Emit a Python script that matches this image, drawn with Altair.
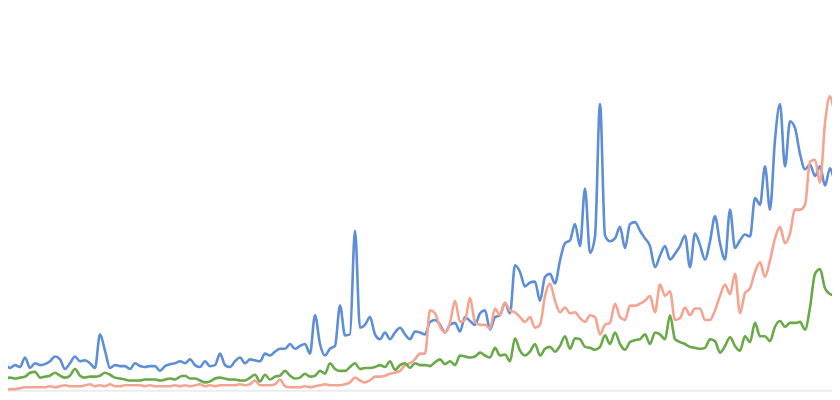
import altair as alt
import pandas as pd

# weekly index values (relative scale), one entry per week
blue = [27, 28, 25, 28, 26, 36, 25, 30, 28, 29, 32, 37, 34, 24, 30, 37, 32, 33, 30, 25,
        60, 43, 25, 28, 27, 27, 24, 30, 27, 26, 27, 27, 22, 27, 29, 30, 32, 30, 34, 28,
        26, 32, 27, 28, 40, 28, 26, 32, 36, 30, 34, 33, 32, 40, 38, 42, 45, 45, 50, 45,
        48, 50, 40, 80, 50, 38, 45, 48, 90, 59, 60, 168, 67, 70, 78, 60, 55, 62, 55, 62,
        67, 60, 55, 63, 62, 60, 73, 75, 70, 62, 70, 72, 63, 78, 74, 70, 82, 85, 65, 78,
        80, 93, 82, 132, 125, 110, 114, 115, 95, 120, 123, 113, 137, 155, 158, 175, 152, 212, 145, 162,
        300, 163, 157, 160, 172, 150, 175, 177, 168, 160, 152, 130, 142, 152, 138, 144, 152, 163, 130, 165,
        153, 138, 157, 183, 155, 138, 190, 150, 158, 164, 162, 202, 195, 235, 190, 263, 300, 235, 282, 275,
        248, 232, 237, 225, 235, 215, 233, 220, 218]

salmon = [2, 2, 3, 3, 4, 5, 5, 5, 5, 5, 6, 5, 6, 7, 6, 6, 6, 7, 8, 6,
          7, 6, 8, 6, 6, 7, 7, 7, 7, 6, 7, 6, 6, 6, 6, 7, 6, 7, 6, 7,
          8, 6, 7, 6, 7, 7, 7, 7, 8, 7, 8, 12, 7, 7, 7, 8, 13, 6, 5, 5,
          5, 6, 5, 6, 7, 8, 7, 7, 7, 8, 10, 15, 12, 10, 12, 16, 16, 17, 19, 20,
          22, 28, 30, 34, 40, 40, 85, 82, 68, 62, 72, 95, 73, 75, 98, 73, 70, 70, 66, 87,
          80, 93, 85, 83, 78, 73, 78, 67, 70, 100, 113, 95, 83, 88, 82, 83, 77, 73, 80, 78,
          60, 70, 72, 92, 78, 75, 90, 90, 92, 95, 100, 83, 112, 100, 105, 75, 77, 88, 80, 87,
          87, 75, 75, 85, 100, 112, 102, 123, 82, 103, 108, 125, 135, 120, 137, 160, 172, 155, 165, 190,
          190, 195, 240, 242, 218, 280, 308, 292, 370]

green = [13, 14, 15, 14, 15, 16, 20, 21, 15, 16, 17, 20, 17, 15, 17, 24, 17, 15, 16, 16,
         17, 20, 18, 15, 14, 13, 12, 12, 12, 13, 13, 13, 12, 13, 14, 13, 16, 17, 14, 14,
         12, 10, 11, 14, 15, 14, 13, 13, 12, 12, 15, 18, 11, 18, 13, 16, 17, 22, 17, 14,
         15, 19, 16, 17, 22, 19, 30, 24, 22, 22, 26, 30, 24, 25, 25, 26, 28, 26, 32, 23,
         28, 30, 25, 30, 28, 28, 27, 31, 34, 29, 32, 28, 38, 37, 36, 37, 41, 38, 36, 46,
         38, 39, 32, 56, 43, 38, 42, 50, 38, 45, 47, 42, 48, 58, 45, 56, 55, 47, 46, 44,
         47, 59, 50, 62, 50, 44, 52, 54, 55, 60, 50, 62, 60, 55, 80, 55, 52, 50, 47, 46,
         45, 46, 55, 53, 41, 48, 57, 48, 43, 58, 52, 72, 58, 58, 53, 68, 74, 68, 72, 72,
         73, 65, 88, 123, 128, 108, 102, 100, 72]

series_names = ["Blue", "Salmon", "Green"]
series_colors = ["#5e8ed6", "#f5a491", "#6aa94a"]

rows = []
for name, vals in zip(series_names, [blue, salmon, green]):
    for i, v in enumerate(vals):
        rows.append({"week": i, "value": v, "series": name})
df = pd.DataFrame(rows)

x_scale = alt.Scale(domain=[1.6, 166.4], nice=False, zero=False)
y_scale = alt.Scale(domain=[0, 400], nice=False, zero=False)

lines = alt.Chart(df).mark_line(
    strokeWidth=2.6, interpolate="monotone", clip=True
).encode(
    x=alt.X("week:Q", scale=x_scale, axis=None),
    y=alt.Y("value:Q", scale=y_scale, axis=None),
    color=alt.Color("series:N",
                    scale=alt.Scale(domain=series_names, range=series_colors),
                    legend=None),
    order=alt.Order("week:Q"),
)

base_line = alt.Chart(pd.DataFrame({"v": [1.3]})).mark_rule(
    color="#ececec", strokeWidth=2
).encode(y=alt.Y("v:Q", scale=y_scale, axis=None))

chart = alt.layer(base_line, lines).properties(
    width=824, height=384, padding=0,
    autosize=alt.AutoSizeParams(type="none")
).configure_view(stroke=None)

chart.save("out.html", embed_options={"renderer": "svg", "actions": False})
